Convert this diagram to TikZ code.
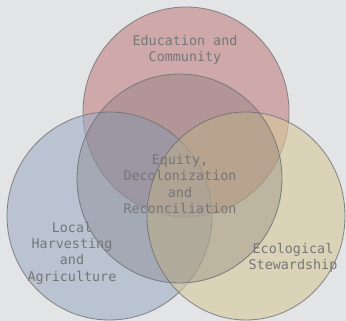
\documentclass[tikz,border=0pt]{standalone}
\usepackage{fontspec}
\setmonofont{DejaVu Sans Mono}
\definecolor{bgc}{RGB}{227,228,230}
\definecolor{topc}{RGB}{194,131,130}
\definecolor{leftc}{RGB}{157,173,197}
\definecolor{rightc}{RGB}{214,200,153}
\definecolor{midc}{RGB}{100,92,95}
\definecolor{edgec}{RGB}{120,120,124}
\definecolor{txtc}{RGB}{118,118,118}
\tikzset{
  setc/.style={draw=edgec, line width=0.8pt, fill opacity=0.6, draw opacity=0.9},
  midset/.style={draw=edgec, line width=0.8pt, fill=midc, fill opacity=0.25},
  lbl/.style={text=txtc, font=\ttfamily\fontsize{13.4}{16.4}\selectfont, align=center, inner sep=0pt}
}
\begin{document}
\begin{tikzpicture}[x=1pt,y=1pt]
\useasboundingbox (0,0) rectangle (346,321);
\fill[bgc] (0,0) rectangle (346,321);
\path[setc, fill=topc] (186,209) ellipse [x radius=103, y radius=105];
\path[setc, fill=leftc] (109.5,105) ellipse [x radius=102.5, y radius=104];
\path[setc, fill=rightc] (246,105) ellipse [x radius=99, y radius=104];
\path[midset] (179.5,142.5) ellipse [x radius=102.5, y radius=104.5];
\node[lbl] (edu) at (185,271) {Education and\\Community};
\node[lbl] (eq) at (180,137) {Equity,\\Decolonization\\and\\Reconciliation};
\node[lbl] (loc) at (72,68) {Local\\Harvesting\\and\\Agriculture};
\node[lbl] (eco) at (293,63.5) {Ecological\\Stewardship};
\end{tikzpicture}
\end{document}
